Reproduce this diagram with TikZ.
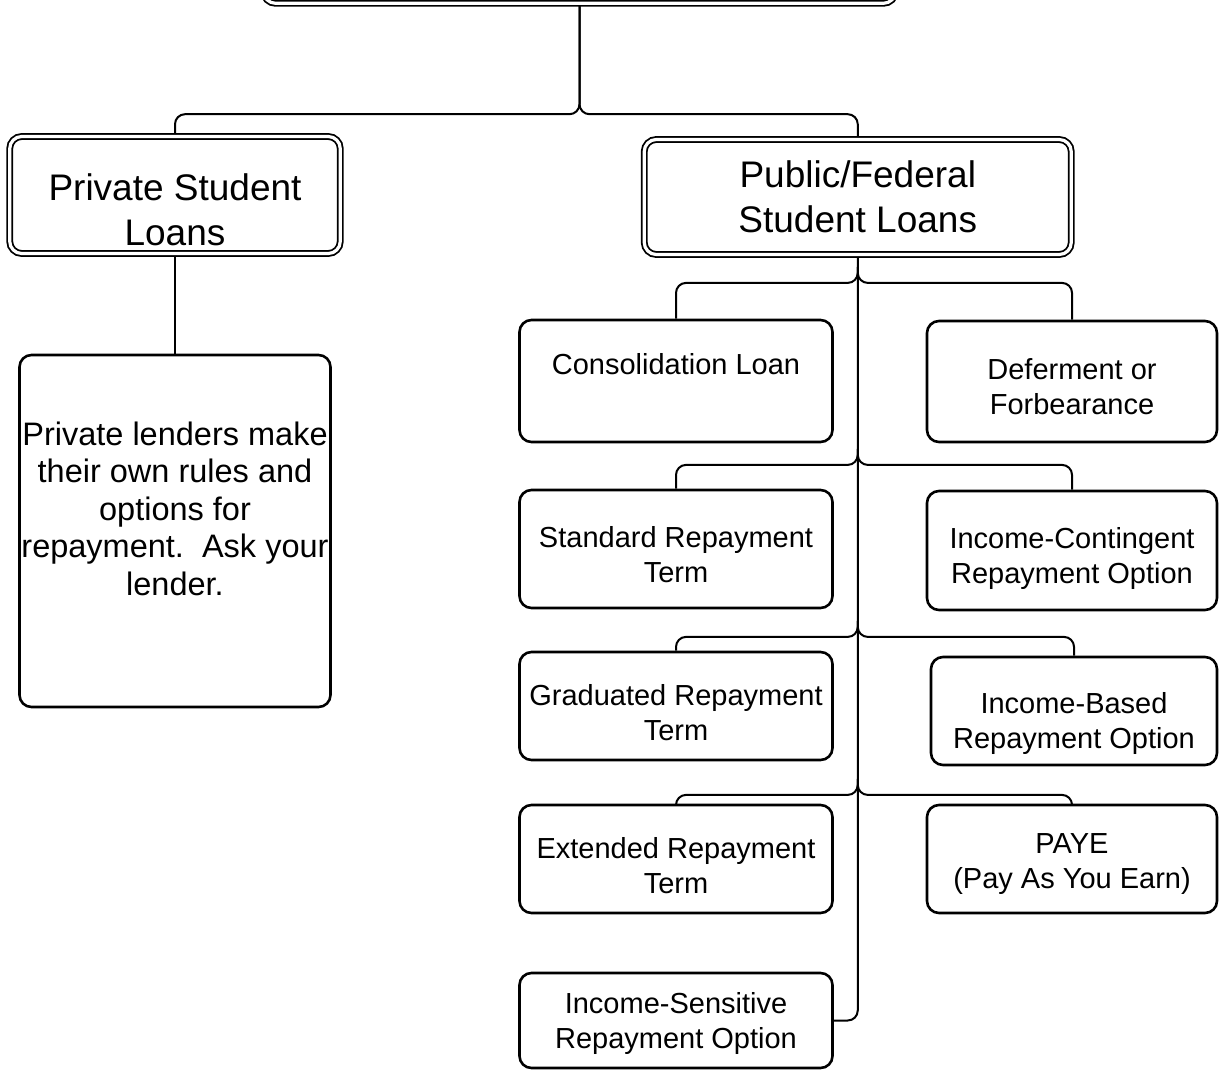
\documentclass[tikz,border=0pt]{standalone}
\usepackage{fontspec}
\setmainfont{Liberation Sans}
\usetikzlibrary{backgrounds,calc}
\frenchspacing
\tikzset{
  dbox/.style={draw, double=white, line width=0.9pt, double distance=1.6pt,
    rounded corners=6pt, fill=white, inner sep=0pt, align=center,
    font=\fontsize{18.5}{22.5}\selectfont},
  sbox/.style={draw, line width=1.3pt, rounded corners=6pt, fill=white,
    inner sep=0pt, align=center, font=\fontsize{14.5}{17.5}\selectfont},
  conn/.style={line width=1pt, rounded corners=5pt},
}
\begin{document}
\begin{tikzpicture}[x=0.5pt, y=-0.5pt]
\useasboundingbox (0,0) rectangle (1219,1070);
\clip (0,0) rectangle (1219,1070);

% top-level boxes
\node[dbox, minimum width=316pt, minimum height=60pt] (top) at (579.5,-56.7) {};
\node[dbox, minimum width=165.25pt, minimum height=58.5pt] (priv) at (175,195) {\rule{0pt}{28.5pt}Private Student\\Loans};
\node[dbox, minimum width=213.5pt, minimum height=57.5pt] (pub) at (857.75,197) {Public/Federal\\Student Loans};

% private branch
\node[sbox, font=\fontsize{16.25}{18.75}\selectfont, minimum width=155.5pt, minimum height=176pt] (plend) at (175,531)
  {Private lenders make\\their own rules and\\options for\\repayment.\ \ Ask your\\lender.\\ \rule[-4pt]{0pt}{4pt}};

% left column
\node[sbox, minimum width=156.5pt, minimum height=61pt] (cons) at (676,381) {Consolidation Loan\\ \mbox{}};
\node[sbox, minimum width=156.5pt, minimum height=59pt] (std) at (676,549) {\rule{0pt}{16.6pt}Standard Repayment\\Term};
\node[sbox, minimum width=156.5pt, minimum height=54pt] (grad) at (676,706) {\rule{0pt}{17.6pt}Graduated Repayment\\Term};
\node[sbox, minimum width=156.5pt, minimum height=54pt] (ext) at (676,859) {\rule{0pt}{17.6pt}Extended Repayment\\Term};
\node[sbox, minimum width=156.5pt, minimum height=47.5pt] (isens) at (676,1020.5) {\rule{0pt}{13.6pt}Income-Sensitive\\Repayment Option};

% right column
\node[sbox, minimum width=145pt, minimum height=60.5pt] (def) at (1072,381.5) {\rule{0pt}{15.6pt}Deferment or\\Forbearance};
\node[sbox, minimum width=145pt, minimum height=59.5pt] (icont) at (1072,550.5) {\rule{0pt}{18.6pt}Income-Contingent\\Repayment Option};
\node[sbox, minimum width=143pt, minimum height=54pt] (ibased) at (1074,711) {\rule{0pt}{22.6pt}Income-Based\\Repayment Option};
\node[sbox, minimum width=145pt, minimum height=54pt] (paye) at (1072,859) {\rule{0pt}{14.6pt}PAYE\\(Pay As You Earn)};

% junctions
\coordinate (j0) at ($(top.south)+(0,110)$);
\coordinate (j1) at ($(pub.south)+(0,27.5)$);
\coordinate (j2) at ($(pub.south)+(0,209.5)$);
\coordinate (j3) at ($(pub.south)+(0,381.5)$);
\coordinate (j4) at ($(pub.south)+(0,539.5)$);

\begin{scope}[on background layer]
  \draw[conn] (top.south) -- (j0) -- (j0 -| priv.north) -- (priv.north);
  \draw[conn] (top.south) -- (j0) -- (j0 -| pub.north) -- (pub.north);
  \draw[conn] (priv.south) -- (plend.north);
  \draw[conn] (pub.south) -- (pub.south |- isens.east) -- (isens.east);
  \foreach \j/\l/\r in {j1/cons/def, j2/std/icont, j3/grad/ibased, j4/ext/paye} {
    \draw[conn] ($(\j)+(0,-16)$) -- (\j) -- (\j -| \l.north) -- (\l.north);
    \draw[conn] ($(\j)+(0,-16)$) -- (\j) -- (\j -| \r.north) -- (\r.north);
  }
\end{scope}
\end{tikzpicture}
\end{document}
